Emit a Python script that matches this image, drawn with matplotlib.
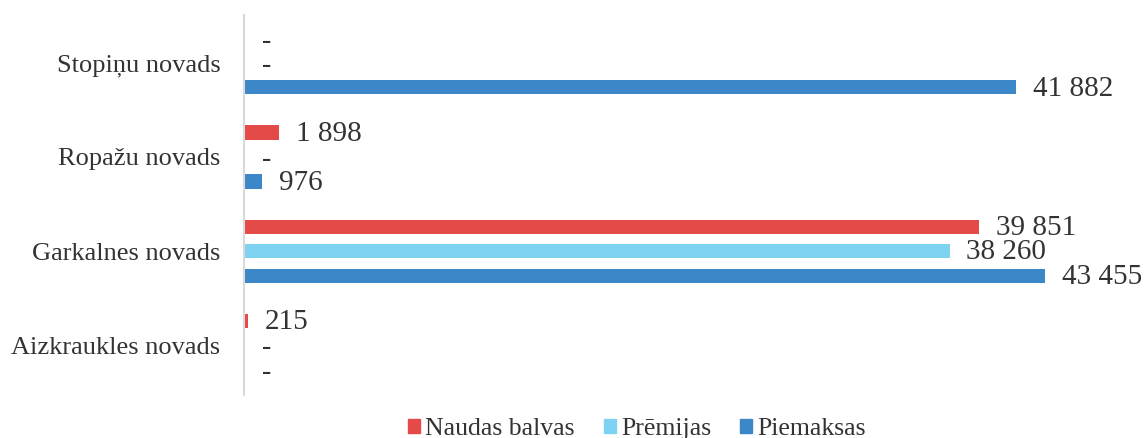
import numpy as np
import matplotlib.pyplot as plt
from matplotlib.patches import Patch

# Dati: novadi (no apakšas uz augšu) un izmaksu veidi; None = nav datu
novadi = ['Aizkraukles novads', 'Garkalnes novads', 'Ropažu novads', 'Stopiņu novads']
naudas_balvas = [215, 39851, 1898, None]
premijas = [None, 38260, None, None]
piemaksas = [None, 43455, 976, 41882]

serijas = ['Naudas balvas', 'Prēmijas', 'Piemaksas']
krasas = ['#E44B48', '#7FD3F2', '#3C87C8']

plt.rcParams['font.family'] = ['Liberation Serif', 'DejaVu Serif']
teksta_krasa = '#333333'

fig = plt.figure(figsize=(11.44, 4.38), dpi=100)
ax = fig.add_axes([244 / 1144, 0.098, 1 - 244 / 1144 - 24 / 1144, 0.868])

y = np.arange(len(novadi))
nobide = 0.26
augstums = 0.15
dati = [naudas_balvas, premijas, piemaksas]

for i, (vertibas, krasa) in enumerate(zip(dati, krasas)):
    pos = y + nobide * (1 - i)
    for yy, v in zip(pos, vertibas):
        if v is None:
            # nav datu - tikai svītra
            ax.annotate('-', xy=(0, yy), xytext=(13, -2), textcoords='offset points',
                        va='center', ha='left', fontsize=20, color=teksta_krasa)
            continue
        ax.barh(yy, v, height=augstums, color=krasa)
        ax.annotate(f'{v:,}'.replace(',', ' '), xy=(v, yy), xytext=(12, -1),
                    textcoords='offset points', va='center', ha='left',
                    fontsize=21, color=teksta_krasa)

ax.set_xlim(0, 47500)
ax.set_ylim(-0.53, 3.51)
ax.set_yticks(y)
ax.set_yticklabels(novadi, fontsize=19, color=teksta_krasa)
ax.tick_params(axis='y', length=0, pad=17)
ax.set_xticks([])
for s in ['top', 'right', 'bottom']:
    ax.spines[s].set_visible(False)
ax.spines['left'].set_color('#D9D9D9')
ax.spines['left'].set_linewidth(1.5)

rokturi = [Patch(color=k) for k in krasas]
fig.legend(rokturi, serijas, loc='center', bbox_to_anchor=(637 / 1144, 9 / 438),
           ncol=3, frameon=False, fontsize=18.5, handlelength=0.45, handleheight=0.45,
           handletextpad=0.2, columnspacing=1.15, labelcolor=teksta_krasa)

fig.savefig('out.png', dpi=100)
